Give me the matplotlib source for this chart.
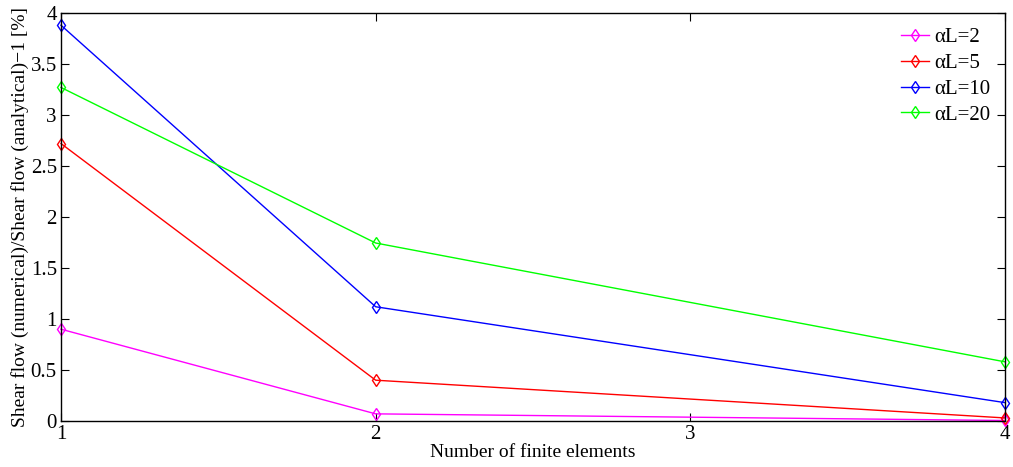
import matplotlib
matplotlib.use('Agg')
import matplotlib.pyplot as plt

# data
n_elements = [1, 2, 4]
err_aL2 = [0.90, 0.07, 0.005]
err_aL5 = [2.72, 0.40, 0.03]
err_aL10 = [3.88, 1.12, 0.18]
err_aL20 = [3.27, 1.745, 0.58]
labels = ['αL=2', 'αL=5', 'αL=10', 'αL=20']
colors = ['#ff00ff', '#ff0000', '#0000ff', '#00ff00']

plt.rcParams['font.family'] = ['Liberation Serif', 'DejaVu Serif']

fig = plt.figure(figsize=(10.13, 4.67), dpi=100)
ax = fig.add_axes([61 / 1013, 46 / 467, 944 / 1013, 408 / 467])

for ys, lab, c in zip([err_aL2, err_aL5, err_aL10, err_aL20], labels, colors):
    ax.plot(n_elements, ys, color=c, lw=1.0, marker='d', markersize=6,
            markerfacecolor='none', markeredgewidth=1.0, label=lab, clip_on=False)

ax.set_xlim(1, 4)
ax.set_ylim(0, 4)
ax.set_xticks([1, 2, 3, 4])
ax.set_yticks([0, 0.5, 1, 1.5, 2, 2.5, 3, 3.5, 4])
ax.set_yticklabels(['0', '0.5', '1', '1.5', '2', '2.5', '3', '3.5', '4'])
ax.tick_params(direction='in', top=True, right=True, labelsize=15, length=6, width=0.8, pad=3)
for s in ax.spines.values():
    s.set_linewidth(1.0)

ax.set_xlabel('Number of finite elements', fontsize=14, labelpad=0)
ax.set_ylabel('Shear flow (numerical)/Shear flow (analytical)\u22121 [%]', fontsize=14, labelpad=1)

ax.legend(loc='upper right', frameon=False, fontsize=15, handlelength=1.35,
          handletextpad=0.25, labelspacing=0.3, borderaxespad=0.3)

fig.savefig('out.png', dpi=100)
